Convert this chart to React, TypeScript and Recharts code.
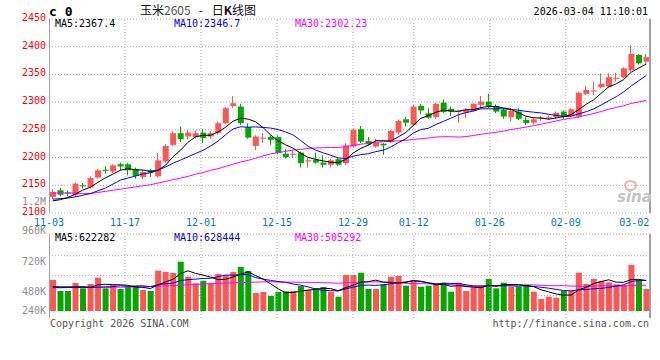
import React from "react";
import { ComposedChart, Bar, Line, XAxis, YAxis, CartesianGrid, ReferenceLine } from "recharts";

// daily candles 11-03 .. 03-04
const opens = [
  2129, 2141, 2137, 2132, 2150, 2146, 2164, 2178, 2175, 2188,
  2188, 2179, 2165, 2177, 2166, 2193, 2223, 2244, 2238, 2237,
  2245, 2238, 2244, 2262, 2293, 2292, 2255, 2221, 2234, 2237,
  2237, 2207, 2205, 2209, 2193, 2196, 2191, 2187, 2197, 2190,
  2220, 2251, 2230, 2220, 2225, 2228, 2245, 2269, 2259, 2293,
  2280, 2273, 2299, 2288, 2282, 2281, 2284, 2295, 2301, 2293,
  2286, 2273, 2283, 2268, 2263, 2270, 2271, 2273, 2283, 2275,
  2274, 2315, 2320, 2327, 2328, 2342, 2345, 2358, 2385, 2373,
];
const highs = [
  2143, 2145, 2141, 2155, 2154, 2166, 2179, 2184, 2188, 2191,
  2190, 2182, 2177, 2179, 2208, 2224, 2247, 2256, 2250, 2249,
  2251, 2248, 2265, 2291, 2311, 2297, 2262, 2240, 2244, 2240,
  2240, 2215, 2212, 2211, 2199, 2209, 2204, 2198, 2199, 2226,
  2252, 2257, 2237, 2234, 2226, 2250, 2268, 2273, 2295, 2297,
  2289, 2299, 2305, 2292, 2286, 2289, 2298, 2311, 2315, 2296,
  2289, 2289, 2289, 2273, 2273, 2275, 2276, 2283, 2285, 2289,
  2319, 2329, 2337, 2352, 2352, 2353, 2363, 2403, 2387, 2387,
];
const lows = [
  2125, 2130, 2130, 2129, 2144, 2144, 2162, 2171, 2172, 2177,
  2168, 2162, 2161, 2165, 2164, 2190, 2221, 2228, 2233, 2234,
  2226, 2234, 2241, 2260, 2290, 2259, 2234, 2214, 2226, 2223,
  2206, 2198, 2199, 2182, 2182, 2189, 2182, 2182, 2185, 2187,
  2218, 2226, 2222, 2218, 2205, 2226, 2241, 2256, 2257, 2278,
  2270, 2270, 2280, 2275, 2263, 2271, 2283, 2289, 2289, 2280,
  2270, 2265, 2268, 2259, 2260, 2266, 2268, 2270, 2270, 2273,
  2271, 2313, 2313, 2325, 2326, 2337, 2343, 2355, 2368, 2367,
];
const closes = [
  2138, 2133, 2135, 2153, 2148, 2163, 2177, 2176, 2186, 2184,
  2177, 2167, 2174, 2173, 2195, 2221, 2244, 2233, 2245, 2244,
  2235, 2244, 2262, 2289, 2298, 2262, 2236, 2238, 2236, 2232,
  2208, 2201, 2207, 2190, 2195, 2191, 2187, 2195, 2187, 2222,
  2250, 2229, 2224, 2227, 2222, 2248, 2266, 2263, 2292, 2285,
  2272, 2297, 2282, 2283, 2284, 2286, 2297, 2301, 2293, 2283,
  2274, 2284, 2270, 2262, 2269, 2272, 2273, 2281, 2274, 2287,
  2317, 2322, 2321, 2333, 2345, 2344, 2361, 2387, 2370, 2381,
];
const volumes = [
  635000, 410000, 410000, 574000, 465000, 553000, 683000, 465000, 533000, 451000,
  498000, 512000, 430000, 410000, 826000, 800000, 779000, 1011000, 703000, 568000,
  621000, 568000, 758000, 738000, 800000, 902000, 820000, 369000, 390000, 308000,
  390000, 404000, 410000, 512000, 430000, 471000, 492000, 396000, 293000, 738000,
  738000, 785000, 451000, 451000, 547000, 703000, 718000, 519000, 615000, 498000,
  519000, 533000, 580000, 396000, 580000, 410000, 486000, 512000, 656000, 465000,
  580000, 498000, 498000, 533000, 396000, 246000, 293000, 273000, 410000, 410000,
  785000, 553000, 656000, 615000, 588000, 547000, 533000, 943000, 635000, 451000,
];

// averages before there is enough visible history
const ma5Head = [2122, 2124, 2128, 2134];
const ma10Head = [2125, 2126, 2127, 2129, 2132, 2135, 2140, 2145, 2152];
const ma30Head = [
  2136, 2136, 2136, 2136, 2135, 2135, 2137, 2139, 2141, 2143,
  2145, 2147, 2149, 2151, 2154, 2157, 2160, 2163, 2166, 2170,
  2173, 2177, 2180, 2184, 2188, 2192, 2195, 2199, 2203,
];
const volMa5Head = [500000, 495000, 495000, 495000];
const volMa10Head = [480000, 480000, 482000, 484000, 486000, 488000, 490000, 494000, 500000];
const volMa30Head = [
  478000, 478000, 479000, 480000, 481000, 482000, 483000, 484000, 486000, 488000,
  490000, 493000, 497000, 502000, 508000, 515000, 522000, 530000, 538000, 546000,
  553000, 560000, 566000, 572000, 578000, 583000, 588000, 592000, 596000,
];

const dateLabels = ["11-03", "11-17", "12-01", "12-15", "12-29", "01-12", "01-26", "02-09", "03-02"];
const dateIndex = [0, 10, 20, 30, 40, 48, 58, 68, 77];
const priceTicks = [2100, 2150, 2200, 2250, 2300, 2350, 2400, 2450];
const volLabels = ["1.2M", "960K", "720K", "480K", "240K"];

const MONO = "'DejaVu Sans Mono', 'Liberation Mono', monospace";
const UP = "#ff5555";
const DOWN = "#00a800";
const GRID = "#a8a8a8";

function movingAvg(vals: number[], n: number, head: number[]) {
  return vals.map((_, i) => {
    if (i < n - 1) return head[i];
    let s = 0;
    for (let k = i - n + 1; k <= i; k++) s += vals[k];
    return s / n;
  });
}

const ma5 = movingAvg(closes, 5, ma5Head);
const ma10 = movingAvg(closes, 10, ma10Head);
const ma30 = movingAvg(closes, 30, ma30Head);
const vma5 = movingAvg(volumes, 5, volMa5Head);
const vma10 = movingAvg(volumes, 10, volMa10Head);
const vma30 = movingAvg(volumes, 30, volMa30Head);

const rows = closes.map((c, i) => ({
  x: i + 0.5,
  open: opens[i],
  high: highs[i],
  low: lows[i],
  close: c,
  up: c >= opens[i],
  vol: volumes[i],
  ma5: ma5[i],
  ma10: ma10[i],
  ma30: ma30[i],
  vma5: vma5[i],
  vma10: vma10[i],
  vma30: vma30[i],
}));

// sina's date grid runs slightly wider than the candle slots
const gridX = (i: number) => i * 1.0117;
const dateTicks = dateIndex.map(gridX);
const innerGrid = dateTicks.slice(1, -1);

function Candle(props: any) {
  const { x, y, width, height, payload } = props;
  const top = Math.min(y, y + height);
  const h = Math.abs(height);
  const k = payload.high > payload.low ? h / (payload.high - payload.low) : 0;
  const color = payload.up ? UP : DOWN;
  const bodyTop = top + (payload.high - Math.max(payload.open, payload.close)) * k;
  const bodyH = Math.max(Math.abs(payload.open - payload.close) * k, 1);
  const cx = Math.round(x + width / 2) - 0.5;
  return (
    <g>
      <line x1={cx} x2={cx} y1={top} y2={top + h} stroke={color} strokeWidth={1} />
      <rect x={x} y={bodyTop} width={width} height={bodyH} fill={color} />
    </g>
  );
}

function VolBar(props: any) {
  const { x, y, width, height, payload } = props;
  return <rect x={x} y={Math.min(y, y + height)} width={width} height={Math.abs(height)} fill={payload.up ? UP : DOWN} />;
}

const PriceTick = ({ x, y, payload }: any) => (
  <text x={x} y={y} dy={2} textAnchor="end" fill="#ff0000" fontSize={10} fontFamily={MONO}>
    {payload.value}
  </text>
);

const DateTick = ({ x, y, index }: any) => (
  <text x={x} y={y} dy={12.5} textAnchor="middle" fill="#0077cc" fontSize={10} fontFamily={MONO}>
    {dateLabels[index]}
  </text>
);

const txt = (left: number, top: number, color: string, extra: React.CSSProperties = {}): React.CSSProperties => ({
  position: "absolute",
  left,
  top,
  color,
  fontSize: 10,
  lineHeight: "10px",
  fontFamily: MONO,
  whiteSpace: "nowrap",
  ...extra,
});

const rightTxt = (right: number, top: number, color: string): React.CSSProperties => ({
  ...txt(0, top, color),
  left: undefined,
  right: 660 - right,
});

const vline = (left: number, top: number, height: number, w = 1): React.CSSProperties => ({
  position: "absolute",
  left,
  top,
  width: w,
  height,
  background: "#a0a0a0",
});

export default function App() {
  const volLabelTops = [197, 226, 256.5, 286.7, 306];
  return (
    <div style={{ position: "absolute", left: 0, top: 0, width: 660, height: 360, background: "#fff", overflow: "hidden" }}>
      <div style={{ position: "absolute", left: 0, top: 0 }}>
        <ComposedChart width={660} height={230} data={rows} margin={{ top: 19, right: 10, left: 0, bottom: 0 }}>
          <CartesianGrid vertical={false} stroke={GRID} strokeDasharray="1 2" />
          <XAxis
            dataKey="x"
            type="number"
            domain={[0, 80]}
            ticks={dateTicks}
            interval={0}
            height={17}
            tickSize={0}
            tickMargin={0}
            axisLine={false}
            tickLine={false}
            tick={<DateTick />}
          />
          <YAxis
            domain={[2100, 2450]}
            ticks={priceTicks}
            width={49}
            tickSize={0}
            tickMargin={3}
            axisLine={false}
            tickLine={false}
            allowDataOverflow
            tick={<PriceTick />}
          />
          {innerGrid.map((g) => (
            <ReferenceLine key={g} x={g} stroke={GRID} strokeDasharray="1 2" />
          ))}
          <Bar dataKey={(d: any) => [d.low, d.high]} barSize={6} shape={<Candle />} isAnimationActive={false} />
          <Line dataKey="ma30" stroke="#ff00ff" strokeWidth={1} dot={false} activeDot={false} isAnimationActive={false} />
          <Line dataKey="ma10" stroke="#0000ff" strokeWidth={1} dot={false} activeDot={false} isAnimationActive={false} />
          <Line dataKey="ma5" stroke="#000000" strokeWidth={1} dot={false} activeDot={false} isAnimationActive={false} />
        </ComposedChart>
      </div>

      <div style={{ position: "absolute", left: 0, top: 228 }}>
        <ComposedChart width={660} height={90} data={rows} margin={{ top: 6, right: 10, left: 49, bottom: 0 }}>
          <CartesianGrid vertical={false} horizontalPoints={[6, 27.7, 47.7, 67.7]} stroke={GRID} strokeDasharray="1 2" />
          <XAxis dataKey="x" type="number" domain={[0, 80]} hide />
          <YAxis domain={[-143500, 1578500]} allowDataOverflow hide />
          {innerGrid.map((g) => (
            <ReferenceLine key={g} x={g} stroke={GRID} strokeDasharray="1 2" />
          ))}
          <Bar dataKey="vol" barSize={6} shape={<VolBar />} isAnimationActive={false} />
          <Line dataKey="vma30" stroke="#ff00ff" strokeWidth={1} dot={false} activeDot={false} isAnimationActive={false} />
          <Line dataKey="vma10" stroke="#0000ff" strokeWidth={1} dot={false} activeDot={false} isAnimationActive={false} />
          <Line dataKey="vma5" stroke="#000000" strokeWidth={1} dot={false} activeDot={false} isAnimationActive={false} />
        </ComposedChart>
      </div>

      {/* frame */}
      <div style={vline(49, 19, 194)} />
      <div style={vline(649, 19, 194, 2)} />
      <div style={vline(49, 234, 84)} />
      <div style={vline(649, 234, 84, 2)} />

      {/* header */}
      <div style={txt(49, 5, "#000", { fontSize: 13, lineHeight: "13px", fontWeight: "bold" })}>c 0</div>
      <div style={txt(140, 3, "#111", { fontSize: 12, lineHeight: "14px", fontFamily: "'Noto Sans CJK SC', sans-serif" })}>
        玉米<span style={{ color: "#555" }}>2605</span>
        <span style={{ margin: "0 9px 0 8px" }}>-</span>
        日<b>K</b>线图
      </div>
      <div style={rightTxt(648, 7, "#000")}>2026-03-04 11:10:01</div>

      {/* legends */}
      <div style={txt(55, 19, "#000")}>MA5:2367.4</div>
      <div style={txt(174, 19, "#0000ff")}>MA10:2346.7</div>
      <div style={txt(295, 19, "#ff00ff")}>MA30:2302.23</div>
      <div style={txt(55, 233, "#000")}>MA5:622282</div>
      <div style={txt(174, 233, "#0000ff")}>MA10:628444</div>
      <div style={txt(295, 233, "#ff00ff")}>MA30:505292</div>

      {/* volume scale labels */}
      {volLabels.map((l, i) => (
        <div key={l} style={rightTxt(46, volLabelTops[i], "#909090")}>{l}</div>
      ))}

      {/* watermark */}
      <div style={txt(617, 190, "#c4c4c4", { fontSize: 15, lineHeight: "15px", fontStyle: "italic", fontWeight: "bold", fontFamily: "'DejaVu Sans', sans-serif" })}>sina</div>
      <div style={{ position: "absolute", left: 624, top: 180, width: 9, height: 7, borderRadius: "50%", border: "2px solid #f4b0b0" }} />

      {/* footer */}
      <div style={txt(50, 319, "#555")}>Copyright 2026 SINA.COM</div>
      <div style={rightTxt(649, 319, "#555")}>http://finance.sina.com.cn</div>
    </div>
  );
}
